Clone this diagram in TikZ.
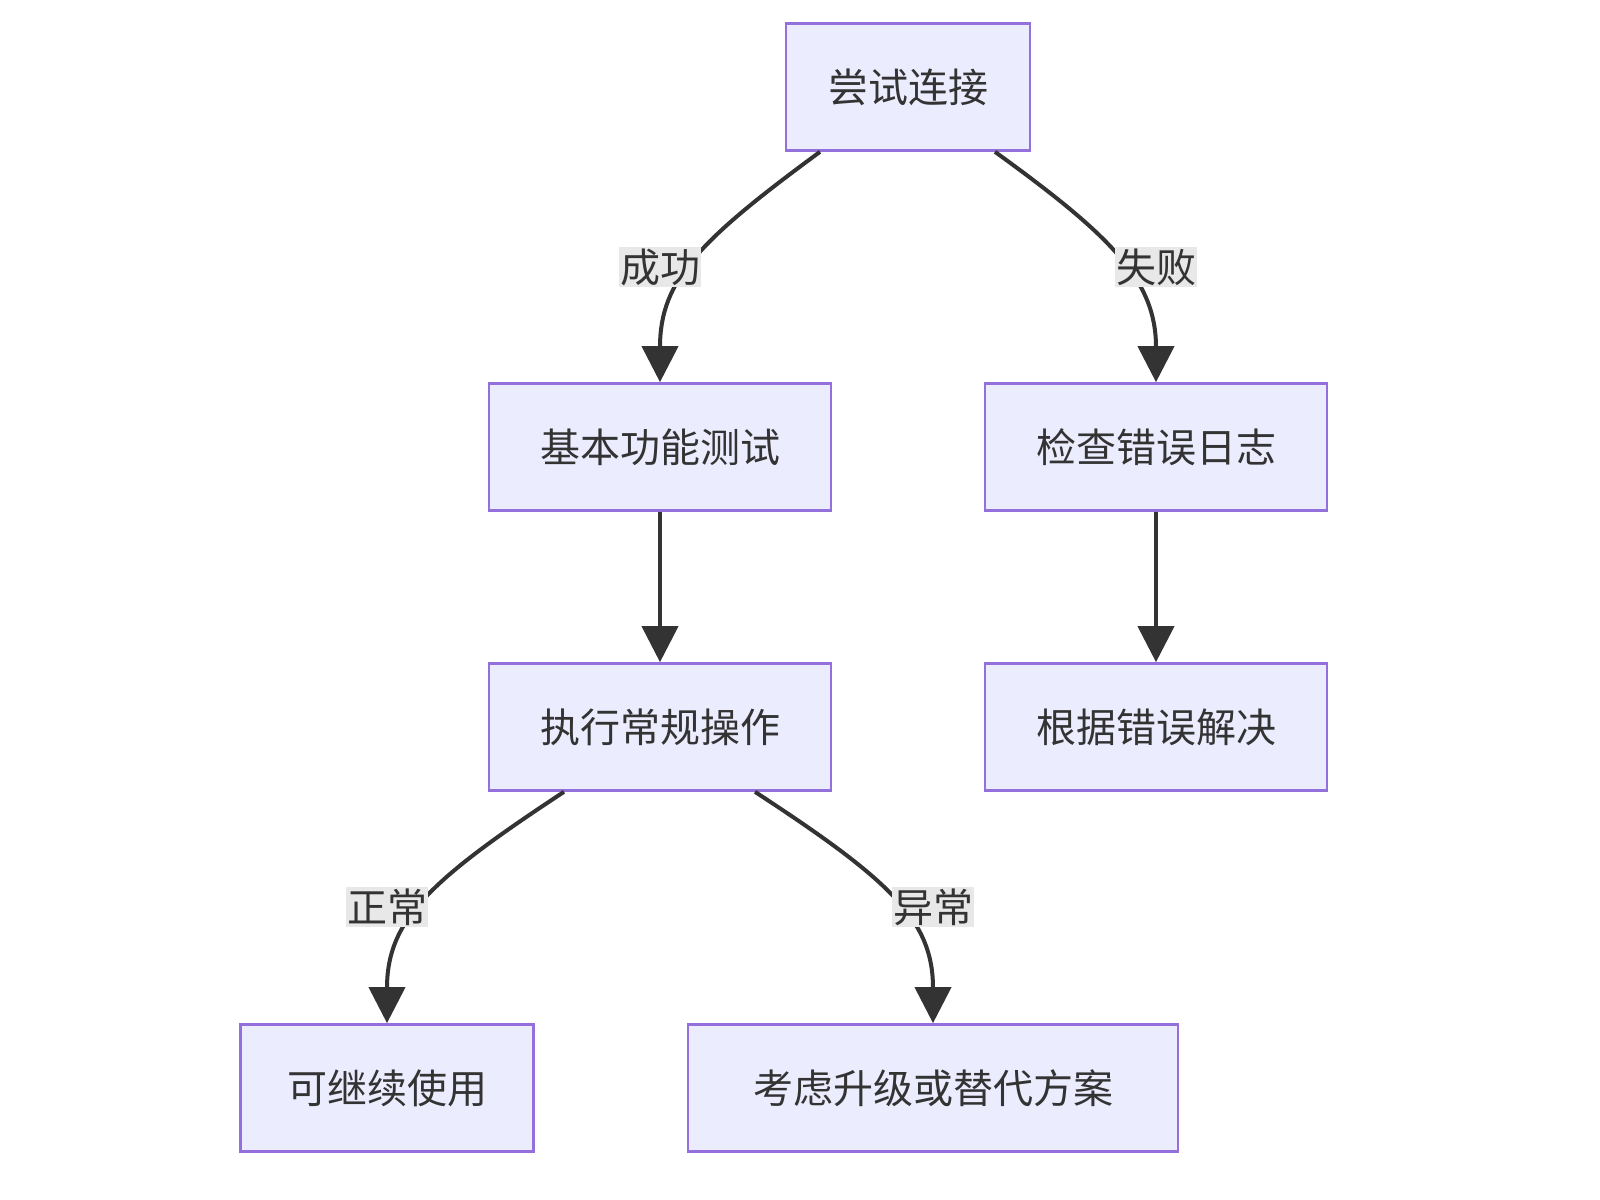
\documentclass[tikz,border=0pt]{standalone}
\usepackage{fontspec}
\setmainfont{Noto Sans CJK SC}
\usetikzlibrary{arrows.meta,calc}

\definecolor{boxline}{HTML}{9370DB}
\definecolor{boxfill}{HTML}{ECECFF}
\tikzset{
  box/.style={draw=boxline, fill=boxfill, line width=2pt,
    text=black!80, font=\fontsize{30}{34}\selectfont,
    minimum height=95.25pt, inner sep=0pt},
  lbl/.style={fill=black!9, text=black!80, font=\fontsize{30}{34}\selectfont,
    inner sep=1pt},
  link/.style={draw=black!80, line width=3pt,
    -{Triangle[length=27pt,width=27pt]}}
}

\begin{document}
\begin{tikzpicture}[x=0.75pt,y=-0.75pt]
  \useasboundingbox (0,0) rectangle (1600,1200);
  % nodes
  \node[box, minimum width=183pt] (try) at (908,87) {尝试连接};
  \node[box, minimum width=256.5pt] (basic) at (660,447) {基本功能测试};
  \node[box, minimum width=256.5pt] (check) at (1156,447) {检查错误日志};
  \node[box, minimum width=256.5pt] (run) at (660,727) {执行常规操作};
  \node[box, minimum width=256.5pt] (fix) at (1156,727) {根据错误解决};
  \node[box, minimum width=219.75pt] (ok) at (387,1088) {可继续使用};
  \node[box, minimum width=367.5pt] (plan) at (933,1088) {考虑升级或替代方案};

  % connectors
  \draw[link] ($(try.south)+(-88,0)$) .. controls (700,240) and (660,280) .. (basic.north);
  \draw[link] ($(try.south)+(87,0)$) .. controls (1110,235) and (1156,280) .. (check.north);
  \draw[link] (basic) -- (run);
  \draw[link] (check) -- (fix);
  \draw[link] ($(run.south)+(-96,0)$) .. controls (430,880) and (387,920) .. (ok.north);
  \draw[link] ($(run.south)+(95,0)$) .. controls (890,880) and (933,920) .. (plan.north);

  % labels
  \node[lbl] (succ) at (660,267) {成功};
  \node[lbl] (fail) at (1156,267) {失败};
  \node[lbl] (norm) at (387,907) {正常};
  \node[lbl] (abn) at (933,907) {异常};
\end{tikzpicture}
\end{document}
